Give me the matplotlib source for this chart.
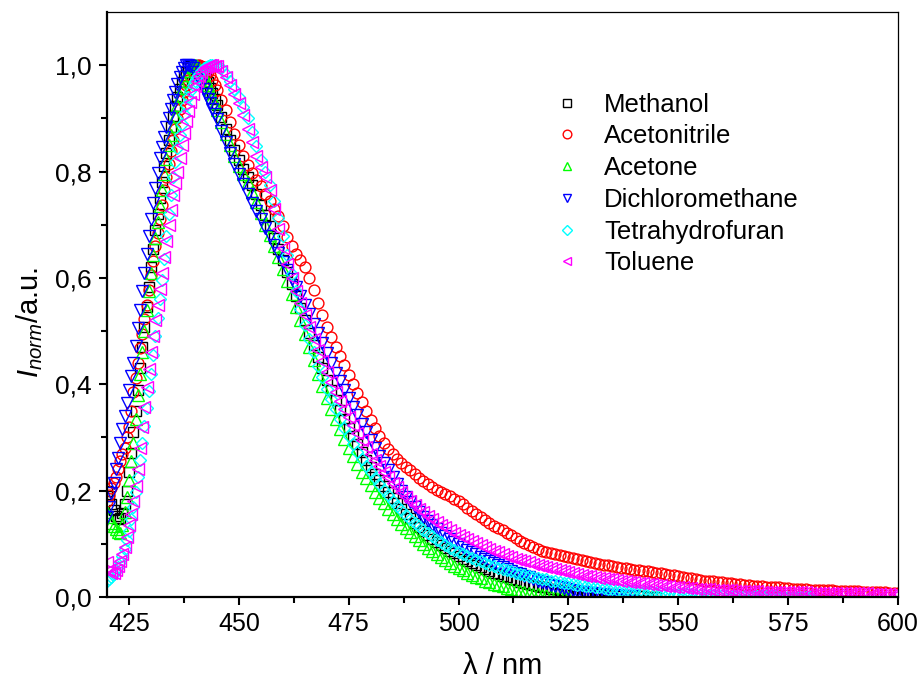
import numpy as np
import matplotlib
matplotlib.use('Agg')
import matplotlib.pyplot as plt
from matplotlib.ticker import MultipleLocator, FixedLocator, FuncFormatter

plt.rcParams['font.family'] = 'Liberation Sans'
plt.rcParams['mathtext.fontset'] = 'custom'
plt.rcParams['mathtext.rm'] = 'Liberation Sans'
plt.rcParams['mathtext.it'] = 'Liberation Sans:italic'

# wavelength grid: 0.5 nm steps over the rising edge, 1 nm afterwards
wl = np.concatenate([np.arange(420, 445, 0.5), np.arange(445, 601, 1.0)])

# normalised intensities
methanol = [0.200, 0.190, 0.175, 0.163, 0.152, 0.146, 0.148, 0.158, 0.175, 0.200,
            0.235, 0.270, 0.310, 0.350, 0.390, 0.430, 0.470, 0.508, 0.545, 0.583,
            0.620, 0.655, 0.690, 0.720, 0.750, 0.780, 0.810, 0.835, 0.860, 0.883,
            0.905, 0.923, 0.940, 0.955, 0.968, 0.979, 0.988, 0.994, 0.998, 1.000,
            1.000, 0.998, 0.996, 0.991, 0.985, 0.977, 0.968, 0.958, 0.948, 0.937,
            0.925, 0.902, 0.880, 0.860, 0.840, 0.822, 0.805, 0.790, 0.775, 0.757,
            0.738, 0.718, 0.697, 0.676, 0.655, 0.633, 0.611, 0.589, 0.566, 0.543,
            0.520, 0.497, 0.474, 0.452, 0.430, 0.409, 0.389, 0.370, 0.352, 0.335,
            0.318, 0.302, 0.287, 0.272, 0.258, 0.245, 0.232, 0.220, 0.208, 0.197,
            0.186, 0.176, 0.166, 0.157, 0.148, 0.140, 0.132, 0.124, 0.117, 0.110,
            0.104, 0.098, 0.092, 0.087, 0.082, 0.077, 0.072, 0.068, 0.064, 0.060,
            0.056, 0.052, 0.049, 0.046, 0.043, 0.040, 0.037, 0.034, 0.032, 0.029,
            0.027, 0.025, 0.023, 0.021, 0.019, 0.018, 0.016, 0.015, 0.013, 0.012,
            0.011, 0.010, 0.009, 0.008, 0.007, 0.006, 0.006, 0.005, 0.004, 0.004,
            0.003, 0.003, 0.002, 0.002, 0.002, 0.001, 0.001, 0.001, 0.000, 0.000,
            0.000]

acetonitrile = [0.180, 0.192, 0.205, 0.215, 0.225, 0.240, 0.255, 0.268, 0.280, 0.300,
                0.320, 0.350, 0.385, 0.412, 0.440, 0.468, 0.495, 0.522, 0.550, 0.578,
                0.605, 0.632, 0.660, 0.685, 0.710, 0.738, 0.765, 0.790, 0.815, 0.838,
                0.860, 0.880, 0.900, 0.918, 0.935, 0.949, 0.962, 0.973, 0.982, 0.989,
                0.995, 0.998, 1.000, 0.999, 0.997, 0.993, 0.988, 0.981, 0.972, 0.963,
                0.953, 0.935, 0.915, 0.893, 0.870, 0.850, 0.830, 0.812, 0.797, 0.785,
                0.772, 0.758, 0.744, 0.730, 0.716, 0.698, 0.677, 0.660, 0.645, 0.634,
                0.620, 0.600, 0.578, 0.553, 0.530, 0.508, 0.488, 0.470, 0.453, 0.436,
                0.418, 0.400, 0.383, 0.366, 0.349, 0.333, 0.318, 0.303, 0.290, 0.279,
                0.269, 0.260, 0.252, 0.245, 0.238, 0.231, 0.224, 0.218, 0.212, 0.207,
                0.202, 0.198, 0.194, 0.190, 0.185, 0.180, 0.174, 0.168, 0.162, 0.156,
                0.150, 0.144, 0.139, 0.134, 0.130, 0.126, 0.121, 0.116, 0.111, 0.106,
                0.102, 0.098, 0.094, 0.090, 0.087, 0.085, 0.083, 0.081, 0.079, 0.078,
                0.076, 0.074, 0.072, 0.070, 0.068, 0.066, 0.064, 0.063, 0.061, 0.060,
                0.058, 0.057, 0.055, 0.054, 0.052, 0.051, 0.050, 0.049, 0.048, 0.047,
                0.046, 0.045, 0.044, 0.042, 0.041, 0.039, 0.038, 0.036, 0.035, 0.033,
                0.032, 0.031, 0.030, 0.030, 0.029, 0.028, 0.027, 0.026, 0.025, 0.024,
                0.023, 0.022, 0.021, 0.020, 0.020, 0.019, 0.019, 0.018, 0.018, 0.017,
                0.017, 0.016, 0.016, 0.015, 0.015, 0.014, 0.014, 0.014, 0.013, 0.013,
                0.013, 0.012, 0.012, 0.012, 0.011, 0.011, 0.011, 0.010, 0.010, 0.010,
                0.009, 0.009, 0.009, 0.008, 0.008, 0.008]

acetone = [0.160, 0.150, 0.140, 0.133, 0.127, 0.122, 0.120, 0.135, 0.160, 0.188,
           0.220, 0.255, 0.290, 0.335, 0.380, 0.420, 0.460, 0.500, 0.540, 0.575,
           0.610, 0.643, 0.675, 0.705, 0.735, 0.765, 0.795, 0.823, 0.850, 0.868,
           0.885, 0.905, 0.925, 0.942, 0.958, 0.971, 0.982, 0.990, 0.996, 0.999,
           1.000, 0.998, 0.995, 0.989, 0.982, 0.973, 0.963, 0.952, 0.940, 0.928,
           0.915, 0.893, 0.870, 0.850, 0.830, 0.810, 0.795, 0.780, 0.762, 0.743,
           0.722, 0.700, 0.680, 0.660, 0.640, 0.617, 0.594, 0.570, 0.545, 0.520,
           0.495, 0.470, 0.445, 0.420, 0.397, 0.375, 0.354, 0.334, 0.315, 0.298,
           0.281, 0.265, 0.250, 0.236, 0.223, 0.210, 0.198, 0.187, 0.176, 0.166,
           0.156, 0.147, 0.138, 0.130, 0.122, 0.114, 0.107, 0.100, 0.093, 0.087,
           0.081, 0.075, 0.070, 0.064, 0.059, 0.055, 0.050, 0.046, 0.042, 0.038,
           0.035, 0.031, 0.028, 0.025, 0.022, 0.020, 0.017, 0.015, 0.013, 0.011,
           0.009, 0.008, 0.006, 0.005, 0.004, 0.003, 0.002, 0.001, 0.001, 0.000,
           0.000]

dichloromethane = [0.150, 0.170, 0.195, 0.215, 0.240, 0.262, 0.290, 0.315, 0.340, 0.365,
                   0.390, 0.415, 0.440, 0.472, 0.505, 0.540, 0.575, 0.610, 0.645, 0.678,
                   0.710, 0.740, 0.770, 0.798, 0.825, 0.846, 0.865, 0.883, 0.900, 0.918,
                   0.935, 0.950, 0.965, 0.977, 0.988, 0.995, 1.000, 1.000, 0.998, 0.994,
                   0.988, 0.980, 0.972, 0.964, 0.955, 0.946, 0.937, 0.928, 0.918, 0.908,
                   0.898, 0.877, 0.856, 0.835, 0.815, 0.795, 0.776, 0.758, 0.741, 0.725,
                   0.710, 0.694, 0.678, 0.662, 0.646, 0.630, 0.614, 0.598, 0.582, 0.566,
                   0.550, 0.532, 0.514, 0.496, 0.477, 0.459, 0.440, 0.422, 0.406, 0.390,
                   0.374, 0.358, 0.342, 0.326, 0.311, 0.296, 0.281, 0.266, 0.252, 0.238,
                   0.225, 0.212, 0.200, 0.189, 0.179, 0.169, 0.160, 0.151, 0.143, 0.135,
                   0.128, 0.121, 0.115, 0.109, 0.104, 0.099, 0.094, 0.089, 0.084, 0.080,
                   0.076, 0.072, 0.068, 0.064, 0.060, 0.056, 0.053, 0.049, 0.046, 0.043,
                   0.040, 0.037, 0.034, 0.031, 0.028, 0.026, 0.023, 0.021, 0.019, 0.017,
                   0.015, 0.013, 0.012, 0.010, 0.009, 0.008, 0.007, 0.006, 0.005, 0.004,
                   0.003, 0.003, 0.002, 0.002, 0.001, 0.001]

tetrahydrofuran = [0.030, 0.033, 0.038, 0.043, 0.048, 0.056, 0.065, 0.077, 0.090, 0.107,
                   0.125, 0.147, 0.170, 0.197, 0.225, 0.257, 0.290, 0.322, 0.355, 0.388,
                   0.420, 0.455, 0.490, 0.525, 0.560, 0.597, 0.635, 0.678, 0.720, 0.755,
                   0.790, 0.818, 0.845, 0.868, 0.890, 0.908, 0.925, 0.940, 0.952, 0.962,
                   0.970, 0.977, 0.984, 0.990, 0.994, 0.997, 0.999, 1.000, 1.000, 1.000,
                   0.999, 0.994, 0.984, 0.970, 0.955, 0.940, 0.922, 0.900, 0.875, 0.848,
                   0.822, 0.800, 0.775, 0.745, 0.712, 0.678, 0.643, 0.608, 0.575, 0.542,
                   0.512, 0.485, 0.460, 0.435, 0.413, 0.392, 0.372, 0.353, 0.335, 0.318,
                   0.302, 0.287, 0.273, 0.260, 0.247, 0.235, 0.223, 0.212, 0.201, 0.191,
                   0.181, 0.172, 0.163, 0.155, 0.147, 0.140, 0.133, 0.126, 0.120, 0.114,
                   0.108, 0.103, 0.098, 0.093, 0.089, 0.085, 0.081, 0.077, 0.073, 0.070,
                   0.067, 0.064, 0.061, 0.058, 0.055, 0.053, 0.050, 0.048, 0.046, 0.044,
                   0.042, 0.040, 0.038, 0.036, 0.034, 0.033, 0.031, 0.030, 0.028, 0.027,
                   0.026, 0.024, 0.023, 0.022, 0.021, 0.020, 0.019, 0.018, 0.017, 0.016,
                   0.015, 0.014, 0.013, 0.013, 0.012, 0.011, 0.011, 0.010, 0.009, 0.009,
                   0.008, 0.008, 0.007, 0.007, 0.006, 0.006, 0.005, 0.005, 0.005, 0.004,
                   0.004, 0.004, 0.003, 0.003, 0.003, 0.003, 0.002, 0.002, 0.002, 0.002,
                   0.002, 0.001, 0.001, 0.001, 0.001, 0.001, 0.001, 0.001, 0.000, 0.000,
                   0.000, 0.000, 0.000, 0.000, 0.000, 0.000]

toluene = [0.065, 0.050, 0.045, 0.046, 0.050, 0.058, 0.068, 0.080, 0.095, 0.113,
           0.135, 0.157, 0.180, 0.208, 0.240, 0.280, 0.320, 0.358, 0.395, 0.428,
           0.460, 0.490, 0.520, 0.550, 0.580, 0.610, 0.640, 0.670, 0.700, 0.728,
           0.755, 0.778, 0.800, 0.825, 0.850, 0.873, 0.895, 0.913, 0.930, 0.945,
           0.960, 0.970, 0.980, 0.987, 0.993, 0.997, 0.999, 1.000, 1.000, 0.999,
           0.998, 0.990, 0.978, 0.962, 0.945, 0.928, 0.906, 0.880, 0.855, 0.830,
           0.808, 0.790, 0.765, 0.730, 0.692, 0.657, 0.627, 0.600, 0.575, 0.552,
           0.530, 0.508, 0.486, 0.464, 0.443, 0.423, 0.404, 0.386, 0.369, 0.353,
           0.338, 0.323, 0.309, 0.295, 0.282, 0.269, 0.257, 0.246, 0.235, 0.225,
           0.215, 0.206, 0.197, 0.189, 0.181, 0.173, 0.166, 0.159, 0.153, 0.147,
           0.141, 0.136, 0.131, 0.126, 0.121, 0.117, 0.113, 0.109, 0.105, 0.101,
           0.097, 0.094, 0.090, 0.087, 0.084, 0.081, 0.078, 0.075, 0.072, 0.070,
           0.067, 0.065, 0.062, 0.060, 0.058, 0.056, 0.054, 0.052, 0.050, 0.048,
           0.047, 0.045, 0.043, 0.042, 0.040, 0.039, 0.038, 0.036, 0.035, 0.034,
           0.033, 0.032, 0.031, 0.030, 0.029, 0.028, 0.027, 0.026, 0.025, 0.024,
           0.023, 0.022, 0.021, 0.020, 0.019, 0.019, 0.018, 0.017, 0.017, 0.016,
           0.016, 0.015, 0.015, 0.014, 0.014, 0.013, 0.013, 0.013, 0.012, 0.012,
           0.012, 0.011, 0.011, 0.011, 0.010, 0.010, 0.010, 0.010, 0.010, 0.009,
           0.009, 0.009, 0.009, 0.009, 0.009, 0.008, 0.008, 0.008, 0.008, 0.008,
           0.008, 0.008, 0.007, 0.007, 0.007, 0.007, 0.007, 0.007, 0.007, 0.006,
           0.006, 0.006, 0.006, 0.006, 0.006, 0.006]

labels = ['Methanol', 'Acetonitrile', 'Acetone', 'Dichloromethane',
          'Tetrahydrofuran', 'Toluene']
colors = ['#000000', '#ff0000', '#00ff00', '#0000ff', '#00ffff', '#ff00ff']
markers = ['s', 'o', '^', 'v', 'D', '<']
sizes = [6.5, 7.8, 8.0, 8.0, 5.8, 8.0]

fig = plt.figure(figsize=(9.2, 6.86), dpi=100)
ax = fig.add_axes([0.1163, 0.1297, 0.8598, 0.8528])

for vals, lab, c, m, s in zip([methanol, acetonitrile, acetone, dichloromethane,
                               tetrahydrofuran, toluene],
                              labels, colors, markers, sizes):
    ax.plot(wl[:len(vals)], vals, ls='none', marker=m, ms=s, mfc='none',
            mec=c, mew=1.0, label=lab)

ax.set_xlim(420, 600)
ax.set_ylim(0, 1.1)
ax.xaxis.set_major_locator(MultipleLocator(25))
ax.xaxis.set_minor_locator(MultipleLocator(12.5))
ax.yaxis.set_major_locator(FixedLocator([0, 0.2, 0.4, 0.6, 0.8, 1.0]))
ax.yaxis.set_minor_locator(FixedLocator([0.1, 0.3, 0.5, 0.7, 0.9]))
ax.yaxis.set_major_formatter(FuncFormatter(lambda v, p: f'{v:.1f}'.replace('.', ',')))
ax.xaxis.set_major_formatter(FuncFormatter(lambda v, p: f'{v:.0f}'))

ax.tick_params(which='both', direction='out', top=False, right=False, width=1.5)
ax.tick_params(which='major', length=6, pad=5)
ax.tick_params(which='minor', length=4)
ax.tick_params(axis='y', labelsize=19)
ax.tick_params(axis='x', labelsize=18)
for side in ['left', 'bottom']:
    ax.spines[side].set_linewidth(1.6)
for side in ['top', 'right']:
    ax.spines[side].set_linewidth(0.9)

ax.set_xlabel('λ / nm', fontsize=21, labelpad=11)
ax.set_ylabel(r'$I_{norm}$/a.u.', fontsize=21)
ax.yaxis.set_label_coords(-0.078, 0.47)

ax.legend(loc='upper left', bbox_to_anchor=(0.565, 0.862), frameon=False,
          fontsize=18.5, handlelength=1.0, handletextpad=0.95, labelspacing=0.3,
          borderpad=0, borderaxespad=0, markerscale=0.8)

fig.savefig('out.png', dpi=100)
